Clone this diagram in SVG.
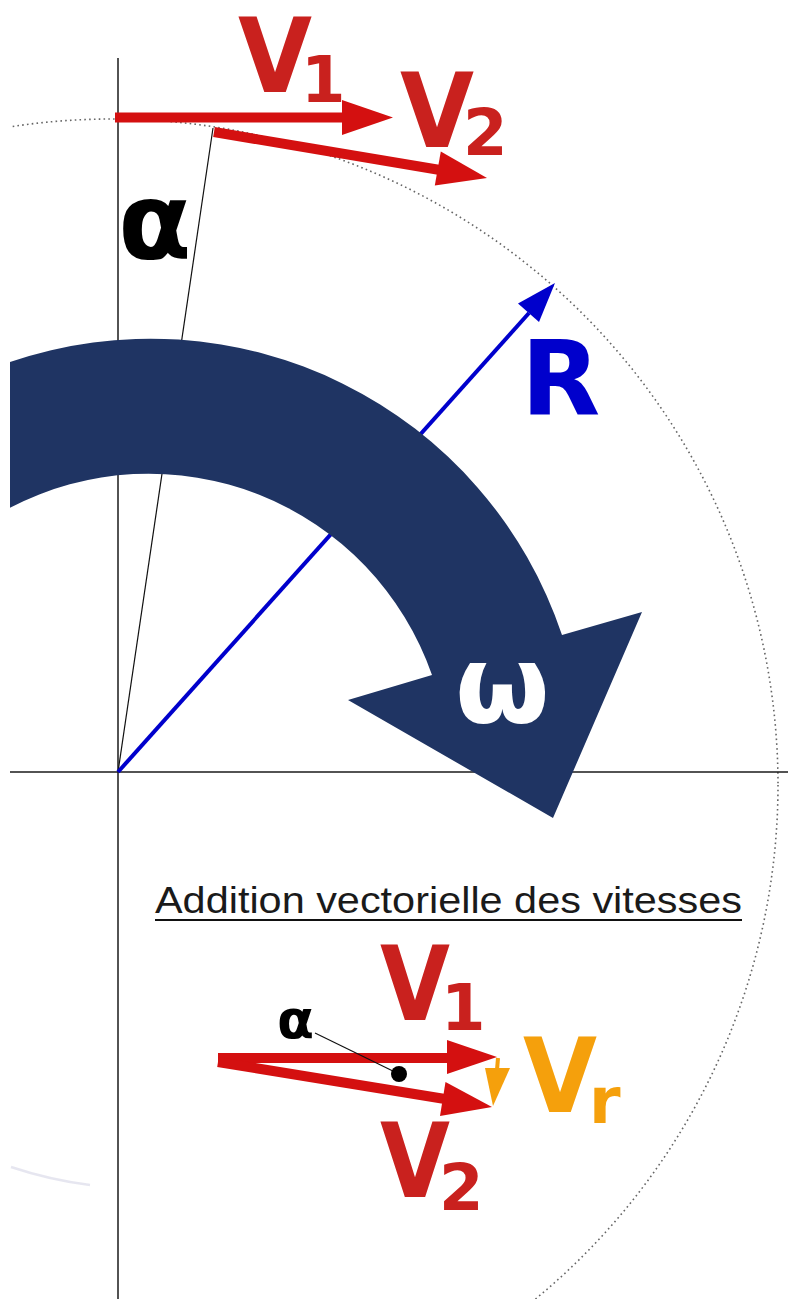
<svg xmlns="http://www.w3.org/2000/svg" width="788" height="1299" viewBox="0 0 788 1299">
  <style>
    .axis { stroke: #1a1a1a; stroke-width: 1.5; fill: none; }
    .thin { stroke: #111; stroke-width: 1.2; fill: none; }
    .dotted { stroke: #666; stroke-width: 1.6; stroke-dasharray: 1.6 3.2; fill: none; }
    .red { fill: #d41010; }
    .redline { stroke: #d41010; stroke-width: 10; fill: none; stroke-linecap: butt; }
    .lbl { font-family: "DejaVu Sans", "Liberation Sans", sans-serif; font-weight: bold; }
    .redtxt { fill: #c9211e; }
    .orange { fill: #f5a00c; }
    .blue { fill: #0000cc; }
    .title { font-family: "Liberation Sans", Arial, sans-serif; font-size: 36px; fill: #1a1a1a; }
  </style>
  <defs>
    <clipPath id="crop"><rect x="10" y="0" width="778" height="1299"/></clipPath>
  </defs>
  <rect width="788" height="1299" fill="#ffffff"/>

  <g id="circle" clip-path="url(#crop)">
    <circle class="dotted" cx="112" cy="785" r="666"/>
  </g>

  <g id="axes">
    <line class="axis" x1="118" y1="58" x2="118" y2="1299"/>
    <line class="axis" x1="10" y1="772" x2="788" y2="772"/>
    <line class="thin" x1="213" y1="128" x2="118" y2="772"/>
    <path d="M11,1167 Q50,1180 90,1185" stroke="#d6d6e6" stroke-width="2.5" fill="none" opacity="0.6"/>
  </g>

  <g id="connectors">
    <!-- R radius vector -->
    <line x1="118" y1="772" x2="529" y2="313" stroke="#0000cc" stroke-width="4"/>
    <polygon class="blue" points="555,283 539,322 518,303.5"/>
    <!-- top V1 -->
    <line class="redline" x1="115" y1="117.5" x2="345" y2="117.5"/>
    <polygon class="red" points="342,100 393,117.5 342,135"/>
    <!-- top V2 -->
    <line class="redline" x1="214" y1="132" x2="440" y2="170"/>
    <polygon class="red" points="487,178 434.8,185.5 440.8,151.5"/>
    <!-- bottom V1 -->
    <line class="redline" x1="218" y1="1058" x2="450" y2="1058"/>
    <polygon class="red" points="447,1040 497,1057 447,1074"/>
    <!-- bottom V2 -->
    <line class="redline" x1="218" y1="1062" x2="445" y2="1099"/>
    <polygon class="red" points="492,1107 440,1116 445.5,1082"/>
    <!-- Vr -->
    <line x1="498" y1="1058" x2="497" y2="1070" stroke="#f5a00c" stroke-width="4"/>
    <polygon class="orange" points="485,1068 510,1068 493,1106"/>
    <!-- alpha pointer -->
    <line class="thin" x1="315" y1="1033" x2="399" y2="1074"/>
    <circle cx="399" cy="1074" r="8" fill="#000"/>
  </g>

  <g id="omega-arrow">
    <path d="M10,362 A434,434 0 0 1 562,635 L642,612 L553,818 L348,700 L432,675 A300,300 0 0 0 10,507.7 Z" fill="#1f3463"/>
    <text class="lbl" x="455" y="722" font-size="109" fill="#ffffff">ω</text>
  </g>

  <g id="label-alpha-top">
    <text class="lbl" x="118" y="258" font-size="107" fill="#000">α</text>
  </g>
  <g id="label-V1-top">
    <text class="lbl redtxt" x="238" y="92" font-size="103" textLength="74" lengthAdjust="spacingAndGlyphs">V</text>
    <text class="lbl redtxt" x="301" y="102" font-size="64">1</text>
  </g>
  <g id="label-V2-top">
    <text class="lbl redtxt" x="400" y="147" font-size="103" textLength="74" lengthAdjust="spacingAndGlyphs">V</text>
    <text class="lbl redtxt" x="463" y="155" font-size="64">2</text>
  </g>
  <g id="label-R">
    <text class="lbl blue" x="521" y="415" font-size="103">R</text>
  </g>

  <g id="title">
    <text class="title" x="155" y="913" textLength="587" lengthAdjust="spacingAndGlyphs">Addition vectorielle des vitesses</text>
    <line x1="155" y1="920" x2="742" y2="920" stroke="#111" stroke-width="2.2"/>
  </g>

  <g id="label-alpha-bottom">
    <text class="lbl" x="277" y="1038" font-size="54" fill="#000">α</text>
  </g>
  <g id="label-V1-bottom">
    <text class="lbl redtxt" x="380" y="1020" font-size="103" textLength="70" lengthAdjust="spacingAndGlyphs">V</text>
    <text class="lbl redtxt" x="441" y="1030" font-size="64">1</text>
  </g>
  <g id="label-V2-bottom">
    <text class="lbl redtxt" x="380" y="1197" font-size="103" textLength="70" lengthAdjust="spacingAndGlyphs">V</text>
    <text class="lbl redtxt" x="439" y="1210" font-size="64">2</text>
  </g>
  <g id="label-Vr">
    <text class="lbl orange" x="523" y="1112" font-size="103" textLength="74" lengthAdjust="spacingAndGlyphs">V</text>
    <text class="lbl orange" x="589" y="1123" font-size="64">r</text>
  </g>
</svg>
